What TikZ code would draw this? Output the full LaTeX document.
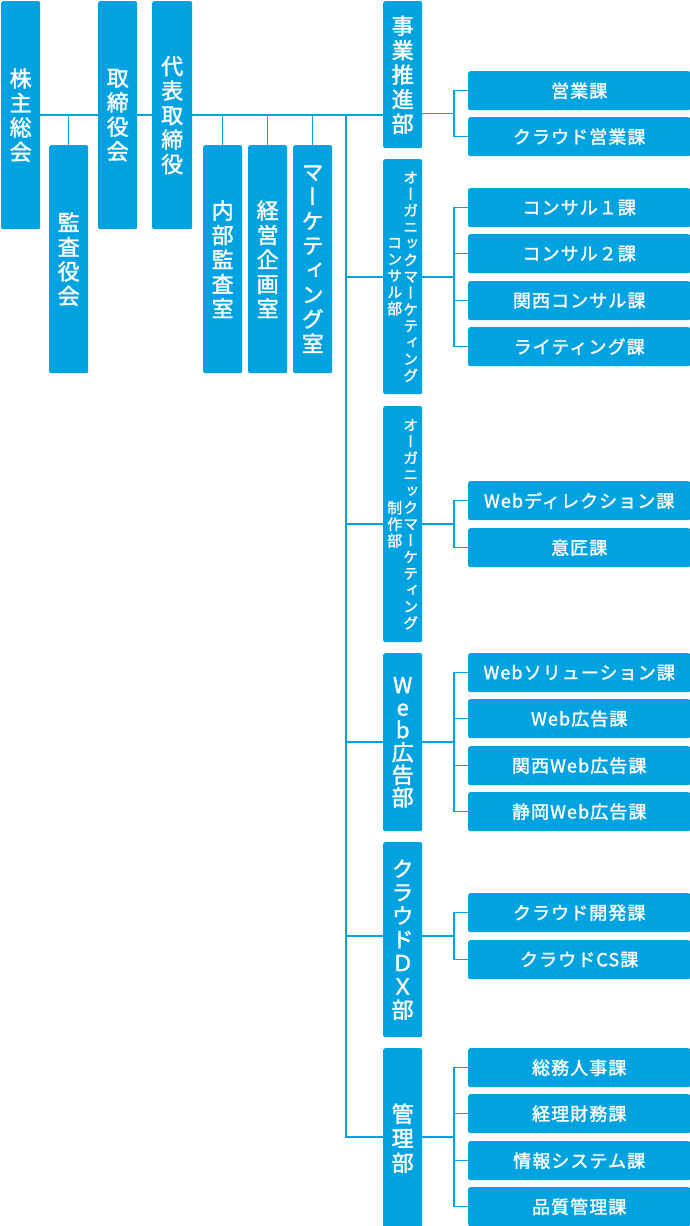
\documentclass[tikz,border=0pt]{standalone}
\usepackage{fontspec}
\usetikzlibrary{calc}
\setmainfont{Noto Sans CJK JP}
\newfontfamily\jpfont{Noto Sans CJK JP}[LetterSpace=6,FakeBold=1.6]
\newfontfamily\jptate{Noto Sans CJK JP}[RawFeature=+vert,FakeBold=1.6]
\definecolor{orgblue}{HTML}{00A2DF}
\makeatletter
% stack the characters of #2 vertically, pitch #1 pt
\newcommand\tategaki[2][24.5]{$\vcenter{\baselineskip=#1pt\lineskiplimit=-100pt\lineskip=0pt
  \@tfor\tc:=#2\do{\hbox to 1em{\hss\tc\hss}}}$}
\makeatother

\begin{document}
\begin{tikzpicture}[x=1pt,y=-1pt,
  box/.style={fill=orgblue,rounded corners=2pt,text=white,inner sep=0pt,anchor=north west},
  post/.style={box,minimum width=39pt,font=\jptate\fontsize{22}{26}\selectfont},
  twocol/.style={post,font=\jptate\fontsize{15}{17}\selectfont},
  unit/.style={box,minimum width=222pt,minimum height=39pt,font=\jpfont\fontsize{18}{20}\selectfont},
  link/.style={draw=orgblue,line width=1.5pt}]
  \useasboundingbox (0,0) rectangle (690,1226);
  % top management
  \node[post,minimum height=228pt] (kabunushi) at (1,1) {\tategaki{株主総会}};
  \node[post,minimum height=228pt] (kansa) at (49,145) {\tategaki{監査役会}};
  \node[post,minimum height=228pt] (torishimari) at (98,1) {\tategaki{取締役会}};
  \node[post,minimum height=228pt,minimum width=40pt] (daihyo) at (152,1) {\tategaki{代表取締役}};
  \node[post,minimum height=228pt] (naibu) at (203,145) {\tategaki{内部監査室}};
  \node[post,minimum height=228pt] (keiei) at (248,145) {\tategaki{経営企画室}};
  \node[post,minimum height=228pt] (marketing) at (293,145) {\tategaki{マーケティング室}};
  % departments
  \node[post,minimum height=147pt] (jigyo) at (383,1) {\tategaki{事業推進部}};
  \node[twocol,minimum height=235pt] (consul) at (383,159)
    {\tategaki[16.5]{コンサル部}\kern1pt\tategaki[16.5]{オーガニックマーケティング}};
  \node[twocol,minimum height=236pt] (seisaku) at (383,406)
    {\tategaki[16.5]{制作部}\kern1pt\tategaki[16.5]{オーガニックマーケティング}};
  \node[post,minimum height=178pt] (webad) at (383,653) {\tategaki[22.5]{Web広告部}};
  \node[post,minimum height=195pt] (dx) at (383,842) {\tategaki[23.5]{クラウドＤＸ部}};
  \node[post,minimum height=180pt] (kanri) at (383,1048) {\tategaki{管理部}};
  % sections
  \foreach \n/\y/\t in {j1/71/営業課, j2/117/クラウド営業課,
      c1/188/コンサル１課, c2/234/コンサル２課, c3/281/関西コンサル課, c4/327/ライティング課,
      s1/481/Webディレクション課, s2/528/意匠課,
      w1/653/Webソリューション課, w2/699/Web広告課, w3/746/関西Web広告課, w4/792/静岡Web広告課,
      d1/893/クラウド開発課, d2/940/クラウドCS課,
      k1/1048/総務人事課, k2/1094/経理財務課, k3/1141/情報システム課, k4/1187/品質管理課}
    \node[unit] (\n) at (468,\y) {\t};
  \coordinate (trunk) at (346,115);
  \coordinate (bx) at (454,0);
  % lines
  \draw[link] (kabunushi.east) -- (torishimari.west);
  \draw[link] (torishimari.east) -- (daihyo.west);
  \draw[link] (daihyo.east) -- (daihyo.east -| jigyo.west);
  \foreach \n in {kansa,naibu,keiei,marketing}
    \draw[link] (\n.north) -- (\n.north |- kabunushi.east);
  \foreach \d/\a/\b in {jigyo/j1/j2,consul/c1/c4,seisaku/s1/s2,webad/w1/w4,dx/d1/d2,kanri/k1/k4} {
    \coordinate (\d-mid) at ($(\a.west)!0.5!(\b.west)$);
    \draw[link] (\d.east |- \d-mid) -- (\d-mid -| bx);
    \draw[link] (\a.west) -- (\a.west -| bx) -- (\b.west -| bx) -- (\b.west);
  }
  \foreach \n in {c2,c3,w2,w3,k2,k3}
    \draw[link] (\n.west -| bx) -- (\n.west);
  \draw[link] (trunk) |- (kanri.west |- kanri-mid);
  \foreach \d in {consul,seisaku,webad,dx}
    \draw[link] (\d-mid -| trunk) -- (\d.west |- \d-mid);
\end{tikzpicture}
\end{document}
